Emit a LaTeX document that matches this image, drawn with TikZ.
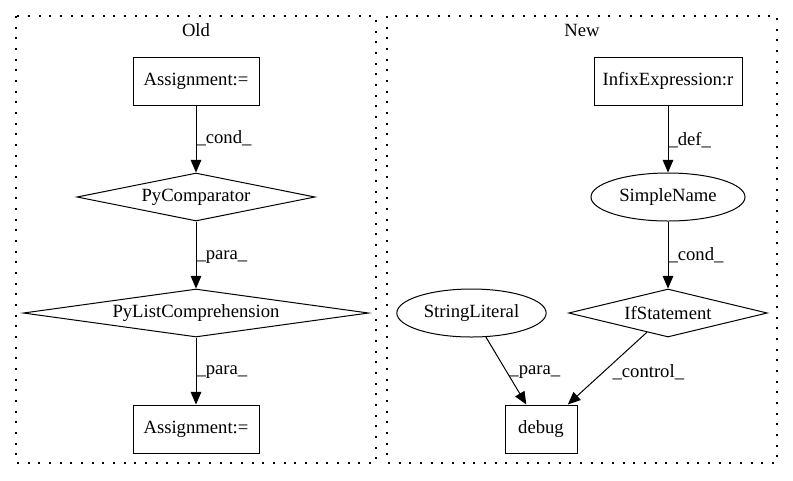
\documentclass[tikz,border=0pt]{standalone}
\usepackage{fontspec}
\setmainfont{Liberation Serif}
\usetikzlibrary{shapes.geometric,arrows.meta}

\begin{document}
\begin{tikzpicture}[x=0.75pt,y=-0.75pt,font=\fontsize{14pt}{16pt}\selectfont,
    line width=0.75pt,
    box/.style={draw,rectangle,inner sep=0pt,minimum height=36pt},
    ovalbox/.style={draw,ellipse,inner sep=0pt,minimum height=36pt},
    diabox/.style={draw,diamond,inner sep=0pt,minimum height=36pt},
    flow/.style={-{Triangle[length=9.5pt,width=8pt]}},
    lbl/.style={anchor=west,inner sep=0pt}]
  \useasboundingbox (0,0) rectangle (793,480);
  % clusters
  \tikzstyle{cluster}=[line width=1pt,dash pattern=on 1.5pt off 6.5pt]
  \draw[cluster] (16,16) rectangle (376,463);
  \draw[cluster] (387,16) rectangle (777,463);
  \node (tOld) at (196,30) {Old};
  \node (tNew) at (582,30) {New};
  % old side
  \node[box,minimum width=94.5pt] (asgA) at (196,81) {Assignment:=};
  \node[diabox,minimum width=178.5pt,label=center:PyComparator] (pyCmp) at (196,197) {};
  \node[diabox,minimum width=259pt,label=center:PyListComprehension] (pyList) at (196,313) {};
  \node[box,minimum width=94.5pt] (asgB) at (196,429) {Assignment:=};
  % new side
  \node[box,minimum width=111pt] (infix) at (668,81) {InfixExpression:r};
  \node[ovalbox,minimum width=115.5pt] (sName) at (668,197) {SimpleName};
  \node[diabox,minimum width=149pt,label=center:IfStatement] (ifSt) at (668,313) {};
  \node[ovalbox,minimum width=112pt] (sLit) at (471.5,313) {StringLiteral};
  \node[box,minimum width=54pt] (dbg) at (541,429) {debug};
  % edges
  \draw[flow] (asgA) -- node[lbl,pos=0.49] {\_cond\_} (pyCmp);
  \draw[flow] (pyCmp) -- node[lbl,pos=0.53] {\_para\_} (pyList);
  \draw[flow] (pyList) -- node[lbl,pos=0.52] {\_para\_} (asgB);
  \draw[flow] (infix) -- node[lbl,pos=0.51] {\_def\_} (sName);
  \draw[flow] (sName) -- node[lbl,pos=0.5] {\_cond\_} (ifSt);
  \draw[flow] (sLit) -- node[lbl,pos=0.52,xshift=1.5pt] {\_para\_} (dbg);
  \draw[flow] (ifSt) -- node[lbl,pos=0.55,xshift=6.5pt] {\_control\_} (dbg);
\end{tikzpicture}
\end{document}
